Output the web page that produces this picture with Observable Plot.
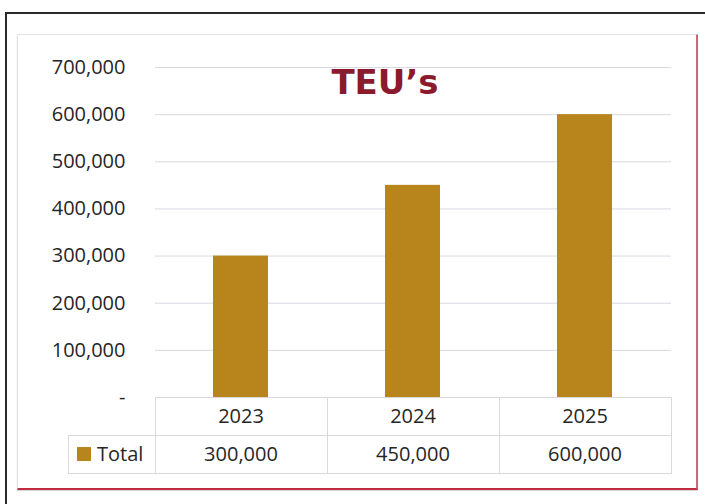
<!DOCTYPE html>
<html><head><meta charset="utf-8">
<script src="https://cdn.jsdelivr.net/npm/d3@7"></script>
<script src="https://cdn.jsdelivr.net/npm/@observablehq/plot@0.6"></script>
<style>
body{margin:0;background:#fff;}
#wrap{position:relative;width:705px;height:504px;overflow:hidden;font-family:"Open Sans",sans-serif;color:#262626;}
.abs{position:absolute;}
#outer{left:5px;top:12px;width:720px;height:520px;border-top:2px solid #2a2a2a;border-left:2px solid #2a2a2a;box-sizing:border-box;}
#card{left:17px;top:34px;width:681px;height:456px;border-top:1px solid #e2e2e2;border-left:1px solid #e2e2e2;border-right:2px solid #c9677b;border-bottom:2px solid #c02a40;box-sizing:border-box;box-shadow:0 1px 1px rgba(0,0,0,0.15);}
#title{top:64px;left:385px;transform:translateX(-50%);font-family:"DejaVu Sans",sans-serif;font-size:34px;line-height:36px;font-weight:700;color:#8b1a2c;white-space:nowrap;}
.hl{height:1px;background:#d9d9d9;}
.vl{width:1px;background:#d9d9d9;}
.cell{font-size:20px;text-align:center;line-height:38px;height:38px;}
svg{position:absolute;left:0;top:0;}
</style></head><body>
<div id="wrap">
  <div id="outer" class="abs"></div>
  <div id="card" class="abs"></div>
</div>
<script>
const years = ["2023", "2024", "2025"];
const totals = [300000, 450000, 600000];
const yTicks = [0, 100000, 200000, 300000, 400000, 500000, 600000, 700000];
const seriesName = "Total";
const chartTitle = "TEU\u2019s";
const barColor = "#b7851c";

const fmt = d3.format(",");
const data = years.map((y, i) => ({year: y, value: totals[i]}));

const chart = Plot.plot({
  width: 705,
  height: 504,
  marginTop: 67,
  marginBottom: 107,
  marginLeft: 155,
  marginRight: 34,
  style: {fontFamily: "Open Sans, sans-serif", fontSize: "20px", color: "#262626", background: "transparent"},
  x: {domain: years, paddingInner: 0.68, paddingOuter: 0.34, label: null},
  y: {domain: [0, 700000], label: null},
  marks: [
    Plot.gridY(yTicks, {stroke: "#d9d9e3", strokeOpacity: 1}),
    Plot.barY(data, {x: "year", y: "value", fill: barColor}),
    Plot.axisY(yTicks, {tickSize: 0, tickPadding: 30, tickFormat: d => d === 0 ? "-" : fmt(d), label: null}),
    Plot.axisX({tickSize: 0, tickPadding: 11, label: null})
  ]
});
const wrap = document.getElementById("wrap");
wrap.appendChild(chart);

// title
const t = document.createElement("div");
t.className = "abs"; t.id = "title"; t.textContent = chartTitle;
wrap.appendChild(t);

// data table under the axis
const xs = chart.scale("x");
const ys = chart.scale("y");
const r0 = xs.range[0], r1 = xs.range[1];
const step = (r1 - r0) / years.length;
const top0 = ys.apply(0);
const rowH = 38;
const legendLeft = 68;
function add(cls, css, text) {
  const d = document.createElement("div");
  d.className = "abs " + cls;
  Object.assign(d.style, css);
  if (text != null) d.textContent = text;
  wrap.appendChild(d);
  return d;
}
// horizontal lines
add("hl", {left: r0 + "px", top: top0 + "px", width: (r1 - r0) + "px"});
add("hl", {left: legendLeft + "px", top: (top0 + rowH) + "px", width: (r1 - legendLeft) + "px"});
add("hl", {left: legendLeft + "px", top: (top0 + 2 * rowH) + "px", width: (r1 - legendLeft + 1) + "px"});
// vertical lines
add("vl", {left: legendLeft + "px", top: (top0 + rowH) + "px", height: rowH + "px"});
for (let i = 0; i <= years.length; i++) {
  add("vl", {left: (r0 + i * step) + "px", top: top0 + "px", height: (2 * rowH) + "px"});
}
// values row
years.forEach((y, i) => {
  add("cell", {left: (r0 + i * step) + "px", top: (top0 + rowH) + "px", width: step + "px"}, fmt(totals[i]));
});
// legend cell
add("", {left: "77px", top: (top0 + rowH + 12) + "px", width: "14px", height: "14px", background: barColor});
add("cell", {left: "97px", top: (top0 + rowH) + "px", textAlign: "left"}, seriesName);
</script>
</body></html>
